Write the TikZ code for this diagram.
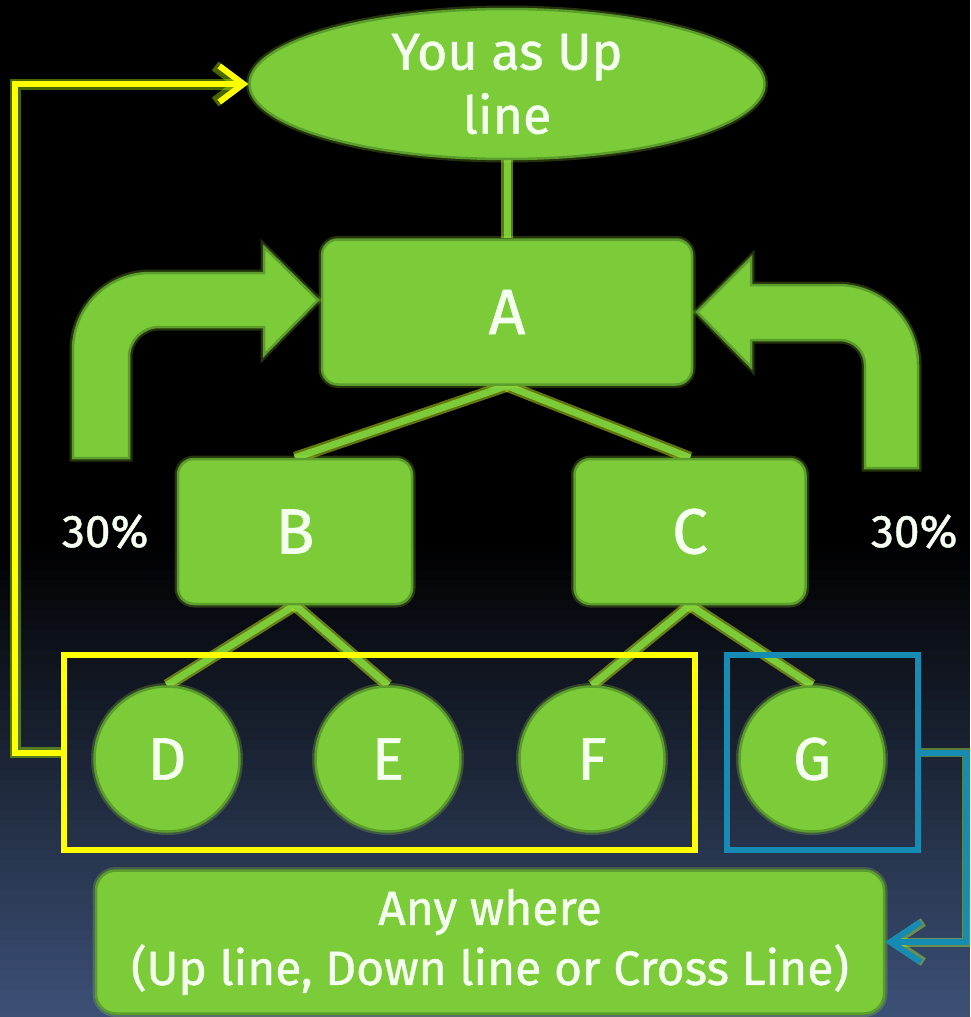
\documentclass[tikz,border=0pt]{standalone}
\usepackage{fontspec}
\setmainfont{Fira Sans}[FakeBold=1]
\usetikzlibrary{positioning, shapes.geometric, arrows.meta, fit, backgrounds}

\definecolor{leafgreen}{RGB}{124,204,58}
\definecolor{edgegreen}{RGB}{92,158,44}
\definecolor{glowgreen}{RGB}{170,235,60}
\definecolor{hiyellow}{RGB}{255,255,0}
\definecolor{linkblue}{RGB}{22,140,180}
\definecolor{bgnavy}{RGB}{60,80,118}
\definecolor{softwhite}{RGB}{245,255,240}

\begin{document}
\begin{tikzpicture}[
    x=1pt, y=-1pt,
    halo/.style={preaction={draw=glowgreen, line width=7pt, opacity=0.22}},
    box/.style={rectangle, halo, draw=edgegreen, line width=2.5pt, fill=leafgreen, rounded corners=16pt, text=softwhite, align=center, inner sep=0pt},
    oval/.style={ellipse, halo, draw=edgegreen, line width=2.5pt, fill=leafgreen, text=softwhite, align=center, inner sep=0pt},
    leaf/.style={circle, halo, draw=edgegreen, line width=2.5pt, fill=leafgreen, text=softwhite, minimum size=145pt, inner sep=0pt, font=\fontsize{60}{64}\selectfont},
    link/.style={draw=leafgreen, line width=7pt, preaction={draw=hiyellow!55!leafgreen, line width=12pt, opacity=0.5}},
    grp/.style={rectangle, line width=6pt, inner xsep=29pt, inner ysep=23.5pt, yshift=6.5pt},
    yarrow/.style={draw=hiyellow, line width=6pt, -{Straight Barb[length=24pt, width=36pt]}, preaction={draw=hiyellow!70!green, line width=11pt, opacity=0.4, -{Straight Barb[length=24pt, width=36pt]}}},
    barrow/.style={draw=linkblue, line width=6pt, -{Straight Barb[length=30pt, width=40pt]}, preaction={draw=glowgreen, line width=9pt, opacity=0.45, -{Straight Barb[length=30pt, width=40pt]}}},
    bendarrow/.style={halo, fill=leafgreen, draw=edgegreen, line width=2.5pt},
    pct/.style={text=softwhite, inner sep=0pt, font=\fontsize{46}{50}\selectfont}
]
\useasboundingbox (0,0) rectangle (970,1017);

% Top of the tree
\node[oval, minimum width=515pt, minimum height=150pt, font=\fontsize{52}{64}\selectfont] (top) at (507,84) {You as Up\\line};
\node[box, minimum width=370pt, minimum height=145pt, below=78pt of top, font=\fontsize{64}{70}\selectfont] (A) {A};

% Second level
\node[box, minimum width=234pt, minimum height=145pt, below=72pt of A, xshift=-212pt, font=\fontsize{64}{70}\selectfont] (B) {B};
\node[box, minimum width=231pt, minimum height=145pt, below=72pt of A, xshift=183pt, font=\fontsize{64}{70}\selectfont] (C) {C};

% Leaves
\node[leaf, below=80pt of B, xshift=-128pt] (D) {D};
\node[leaf, below=80pt of B, xshift=93pt] (E) {E};
\node[leaf, below=80pt of C, xshift=-98pt] (F) {F};
\node[leaf, below=80pt of C, xshift=122pt] (G) {G};

% Groups
\node[grp, draw=hiyellow, fit=(D) (F)] (grpDF) {};
\node[grp, draw=linkblue, fit=(G), inner xsep=22pt, xshift=10.5pt] (grpG) {};

% Anywhere box
\node[box, rounded corners=20pt, minimum width=788pt, minimum height=143pt, font=\fontsize{48}{60}\selectfont] (any) at (490,942) {Any where\\(Up line, Down line or Cross Line)};

% Percent labels
\node[pct, left=28pt of B] (pctL) {30\%};
\node[pct, right=64pt of C] (pctR) {30\%};

% Bent arrows into A
\path[bendarrow] (73,458) -- (73,350) arc[start angle=180, end angle=270, radius=77]
    -- (264,273) -- (264,247) -- (318,300) -- (264,355) -- (264,327) -- (159,327)
    arc[start angle=270, end angle=180, radius=30] -- (129,458) -- cycle;
\path[bendarrow] (918,468) -- (918,365) arc[start angle=0, end angle=-90, radius=80]
    -- (751,285) -- (751,258) -- (697,312) -- (751,367) -- (751,340) -- (840,340)
    arc[start angle=270, end angle=360, radius=25] -- (865,468) -- cycle;

% Connections
\begin{scope}[on background layer]
\fill[black] (0,0) rectangle (970,1017);
\foreach \i in {0,...,47}{
    \pgfmathsetmacro{\mix}{100*\i/47}
    \fill[bgnavy!\mix!black] (0,{540+10*\i}) rectangle (970,{551+10*\i});
}
\draw[link] (top.south) -- (A.north);
\draw[link] (A.south) -- (B.north);
\draw[link] (A.south) -- (C.north);
\draw[link] (B.south) -- (D.north);
\draw[link] (B.south) -- (E.north);
\draw[link] (C.south) -- (F.north);
\draw[link] (C.south) -- (G.north);
\end{scope}

\draw[yarrow] (grpDF.west) -- ++(-46,0) |- (top.west);
\draw[barrow] (grpG.east) -- ++(45,0) |- (any.east);

\end{tikzpicture}
\end{document}
